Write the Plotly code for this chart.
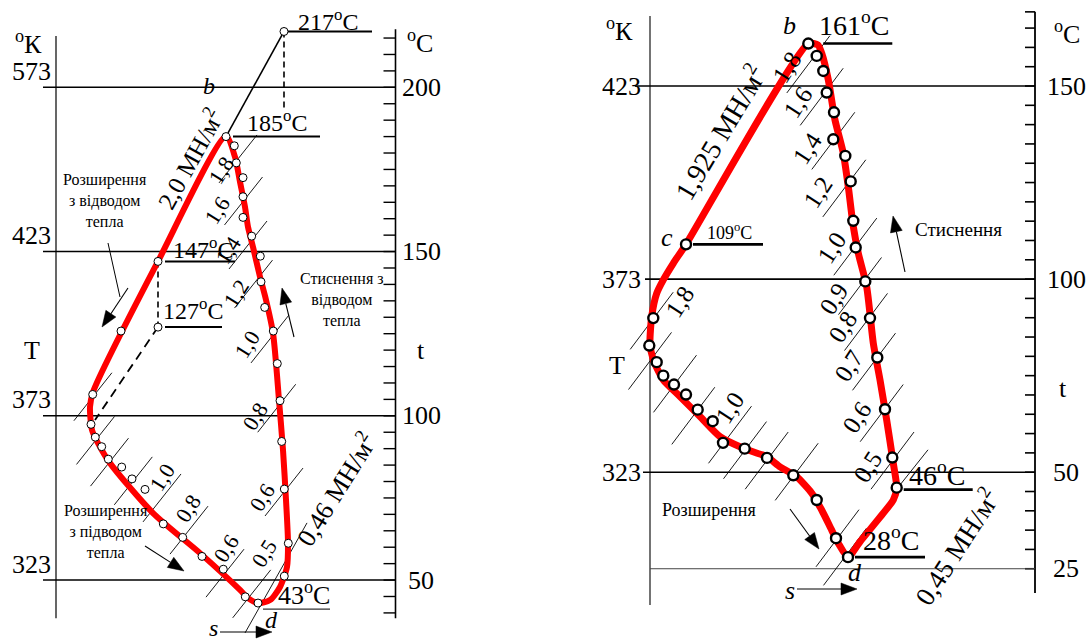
import math
import plotly.graph_objects as go

W, H = 1092, 641
SERIF = "Liberation Serif, Tinos, DejaVu Serif, serif"
RED = "#ff0000"

# ================= Left diagram: 2.0 / 0.46 MN/m² =================
# s - entropy (relative units), t - temperature (°C)
l_cycle_s = [17.0, 17.9, 18.4, 18.9, 19.2, 19.7, 20.4, 21.0, 21.7, 22.3, 22.7, 23.0, 23.2,
             23.1, 22.4, 21.4, 20.2, 19.2, 18.4, 14.4, 9.7, 5.4, 4.2, 3.6, 3.4, 3.7, 10.2, 17.0]
l_cycle_t = [185, 178.8, 171.2, 163.6, 157.5, 151.4, 142.3, 135.3, 125.2, 104.8, 89.6, 74.4, 61.3,
             54.0, 47.9, 43.9, 43.0, 44.5, 47.0, 58.2, 70.4, 85.6, 91.7, 95.7, 102.7, 107.2, 147, 185]

l_pts_s = [6.5, 3.67, 3.5, 3.93, 4.57, 5.23, 6.57, 7.6, 8.9, 10.73, 12.67, 14.6, 16.73, 18.93,
           22.83, 23.23, 22.83, 22.57, 22.4, 22.13, 21.73, 20.87, 20.5, 20.43, 19.57, 18.7, 18.7,
           18.7, 18.03, 17.83]
l_pts_t = [125.8, 106.5, 97.4, 93.5, 90.6, 86.8, 84.4, 80.8, 77.6, 67.1, 63.0, 57.2, 53.3, 44.9,
           51.2, 61.2, 77.7, 92.2, 104.6, 115.9, 125.8, 133.0, 140.8, 148.6, 154.7, 160.4, 166.7,
           172.5, 177.0, 182.2]

# labelled states: 217, 185, 147, 127, 43 °C
l_key_s = [22.8, 17.0, 10.2, 10.2, 20.2]
l_key_t = [217, 185, 147, 127, 43]

# dashed continuation from the 127 °C state
l_dash_s = [10.2, 3.9]
l_dash_t = [127, 98.7]
l_dash_top_t = 193  # lower end of the dashed drop from 217 °C

# isobar hatch centres
l_iso_s = [18.2, 18.75, 19.2, 19.75, 21.4, 22.07, 22.8, 19.57, 16.9, 13.3, 10.6, 7.73, 5.35, 3.95, 3.69]
l_iso_t = [178.2, 165.4, 152.0, 140.1, 123.4, 102.3, 76.8, 45.8, 52.1, 65.2, 75.0, 80.2, 85.9, 92.5, 105.8]
l_iso_long_s = [18.9, 25.1]
l_iso_long_t = [33.9, 67.4]
l_iso_labels = ["1,8", "1,6", "1,4", "1,2", "1,0", "0,8", "0,6", "0,5", "1,0", "0,8", "0,6"]

l_major_t = [200, 150, 100, 50]
l_major_K = ["573", "423", "373", "323"]
l_ticks_t = list(range(40, 216, 5))

# ================= Right diagram: 1.925 / 0.45 MN/m² =================
r_cycle_s = [15.83, 16.8, 17.17, 17.83, 18.5, 19.33, 19.83, 20.33, 20.83, 21.67, 22.33, 23.0, 23.67,
             24.33, 24.67, 24.33, 23.33, 21.0, 19.8, 18.83, 18.17, 17.17, 16.17, 14.67, 13.0, 11.67,
             9.33, 7.0, 5.0, 3.0, 1.33, 0.33, 0.0, 0.17, 0.67, 1.33, 2.33, 3.6, 15.83]
r_cycle_t = [161, 160.6, 158.5, 151.6, 141.2, 132.6, 123.9, 113.6, 106.7, 98.0, 83.4, 73.9, 63.5,
             52.3, 46, 42.8, 39.4, 32.0, 28, 31.6, 35.0, 40.2, 44.6, 48.8, 51.4, 54.0,
             56.2, 59.2, 64.4, 69.6, 73.9, 79.1, 83.4, 90.3, 96.3, 99.8, 104.1, 109, 161]

r_pts_s = [16.67, 17.33, 17.67, 18.4, 18.33, 19.53, 20.07, 20.33, 20.57, 21.53, 22.0, 22.73, 23.5,
           24.23, 18.6, 16.67, 14.33, 11.7, 9.47, 7.3, 6.27, 4.77, 3.6, 2.4, 1.33, 0.67, -0.07, 0.33]
r_pts_t = [157.8, 153.9, 148.3, 143.2, 136.2, 131.9, 125.3, 115.1, 108.2, 99.4, 89.9, 79.7, 66.3,
           53.8, 32.9, 42.8, 49.2, 53.7, 56.1, 57.6, 63.2, 66.2, 70.1, 72.7, 75.0, 78.5, 82.8, 89.9]

# labelled states: b 161, c 109, 46, d 28 °C
r_key_s = [15.83, 3.6, 24.67, 19.8]
r_key_t = [161, 109, 46, 28]

r_iso_s = [15.83, 17.17, 18.33, 19.43, 20.53, 21.0, 21.6, 22.4, 23.17, 24.25,
           0.17, 0.0, 2.5, 4.33, 8.0, 9.5, 11.67, 14.67, 18.75, 19.5]
r_iso_t = [155.6, 147.2, 135.8, 123.5, 108.4, 98.2, 88.9, 78.6, 65.3, 53.0,
           89.2, 78.8, 72.9, 64.6, 59.7, 55.7, 53.0, 50.1, 32.9, 28.1]
r_iso_short_s = [25.0, 27.8]
r_iso_short_t = [46.7, 55.8]
r_iso_labels = ["1,8", "1,6", "1,4", "1,2", "1,0", "0,9", "0,8", "0,7", "0,6", "0,5", "1,8", "1,0"]

r_major_t = [150, 100, 50, 25]
r_major_K = ["423", "373", "323", ""]
r_ticks_t = list(range(25, 170, 5))


def px(x, y):
    """pixel position -> paper coordinates"""
    return x / W, 1 - y / H


def hatch(cs, ct, ds, dt):
    xs, ys = [], []
    for s, t in zip(cs, ct):
        xs += [s - ds, s + ds, None]
        ys += [t - dt, t + dt, None]
    return xs, ys


fig = go.Figure()

# ---------- left panel marks ----------
hx, hy = hatch(l_iso_s, l_iso_t, 1.9, 7.3)
fig.add_trace(go.Scatter(x=hx, y=hy, mode="lines", line=dict(color="black", width=0.9),
                         xaxis="x", yaxis="y", hoverinfo="skip"))
fig.add_trace(go.Scatter(x=l_iso_long_s, y=l_iso_long_t, mode="lines",
                         line=dict(color="black", width=0.9), xaxis="x", yaxis="y"))
# 185 -> 217 °C line and dashed guides
fig.add_trace(go.Scatter(x=[l_key_s[1], l_key_s[0]], y=[l_key_t[1], l_key_t[0]], mode="lines",
                         line=dict(color="black", width=1.6), xaxis="x", yaxis="y"))
fig.add_trace(go.Scatter(x=[l_key_s[0], l_key_s[0]], y=[l_key_t[0], l_dash_top_t], mode="lines",
                         line=dict(color="black", width=1.6, dash="6px,4px"), xaxis="x", yaxis="y"))
fig.add_trace(go.Scatter(x=[l_key_s[2], l_key_s[3]], y=[l_key_t[2], l_key_t[3]], mode="lines",
                         line=dict(color="black", width=1.6, dash="6px,4px"), xaxis="x", yaxis="y"))
fig.add_trace(go.Scatter(x=l_dash_s, y=l_dash_t, mode="lines",
                         line=dict(color="black", width=1.8, dash="9px,6px"), xaxis="x", yaxis="y"))
fig.add_trace(go.Scatter(x=l_cycle_s, y=l_cycle_t, mode="lines",
                         line=dict(color=RED, width=6, shape="spline", smoothing=0.7),
                         xaxis="x", yaxis="y"))
fig.add_trace(go.Scatter(x=l_pts_s + l_key_s, y=l_pts_t + l_key_t, mode="markers",
                         marker=dict(size=8, color="white", line=dict(color="black", width=1)),
                         xaxis="x", yaxis="y"))

# ---------- right panel marks ----------
hx, hy = hatch(r_iso_s, r_iso_t, 2.15, 7.4)
fig.add_trace(go.Scatter(x=hx, y=hy, mode="lines", line=dict(color="black", width=0.9),
                         xaxis="x2", yaxis="y2"))
fig.add_trace(go.Scatter(x=r_iso_short_s, y=r_iso_short_t, mode="lines",
                         line=dict(color="black", width=0.9), xaxis="x2", yaxis="y2"))
fig.add_trace(go.Scatter(x=r_cycle_s, y=r_cycle_t, mode="lines",
                         line=dict(color=RED, width=7, shape="spline", smoothing=0.6),
                         xaxis="x2", yaxis="y2"))
fig.add_trace(go.Scatter(x=r_pts_s + r_key_s, y=r_pts_t + r_key_t, mode="markers",
                         marker=dict(size=10, color="white", line=dict(color="black", width=2.4)),
                         xaxis="x2", yaxis="y2"))

shapes = []
ann = []


def seg(x0, y0, x1, y1, xr, yr, w=1.5, color="black", dash="solid"):
    shapes.append(dict(type="line", x0=x0, y0=y0, x1=x1, y1=y1, xref=xr, yref=yr,
                       line=dict(color=color, width=w, dash=dash), layer="below"))


def text(x, y, s, size, angle=0, italic=False, **kw):
    xp, yp = px(x, y)
    if italic:
        s = "<i>" + s + "</i>"
    d = dict(x=xp, y=yp, xref="paper", yref="paper", text=s, showarrow=False,
             font=dict(family=SERIF, size=size, color="black"), textangle=angle,
             xanchor="center", yanchor="middle")
    d.update(kw)
    ann.append(d)


def pline(p0, p1, w=1.0):
    a0, b0 = px(*p0)
    a1, b1 = px(*p1)
    shapes.append(dict(type="line", x0=a0, y0=b0, x1=a1, y1=b1, xref="paper", yref="paper",
                       line=dict(color="black", width=w)))


def arrow(tail, tip, head=16, half=6, w=1.1):
    """thin shaft with a filled triangular head"""
    dx, dy = tip[0] - tail[0], tip[1] - tail[1]
    n = math.hypot(dx, dy)
    ux, uy = dx / n, dy / n
    bx, by = tip[0] - head * ux, tip[1] - head * uy
    pline(tail, (bx, by), w)
    pts = [tip, (bx - half * uy, by + half * ux), (bx + half * uy, by - half * ux)]
    path = "M " + " L ".join("{:.5f},{:.5f}".format(*px(*p)) for p in pts) + " Z"
    shapes.append(dict(type="path", path=path, xref="paper", yref="paper",
                       fillcolor="black", line=dict(color="black", width=0.5)))


# ---------- left panel frame ----------
seg(0, 38.4, 0, 215.6, "x", "y", w=1.2)
seg(33.95, 38.4, 33.95, 217.7, "x", "y", w=1.6)
for t in l_ticks_t:
    seg(32.75, t, 33.95, t, "x", "y", w=1.4)
for t, k in zip(l_major_t, l_major_K):
    seg(-1.3, t, 33.95, t, "x", "y", w=1.4)
    ann.append(dict(x=-2.5, y=t, xref="x", yref="y", text=k, showarrow=False, yshift=16,
                    font=dict(family=SERIF, size=26, color="black")))
    ann.append(dict(x=36.5, y=t, xref="x", yref="y", text=str(t), showarrow=False,
                    font=dict(family=SERIF, size=26, color="black"), xanchor="center"))

# temperature labels with underlines (left)
l_lab_off = [(44, 11.5, 24), (51, 16, 24), (45, 13, 24), (35, 18, 24), (46, 10, 26)]
l_ul = [(0, 88, 0), (7, 94, 0), (7, 77, 0), (7, 64, 0), (5, 72, -6)]
for s, t, (dx, dy, fs), (u0, u1, uy) in zip(l_key_s, l_key_t, l_lab_off, l_ul):
    ann.append(dict(x=s, y=t, xref="x", yref="y", text=f"{t}<sup>o</sup>C", showarrow=False,
                    xshift=dx, yshift=dy, font=dict(family=SERIF, size=fs, color="black")))
    seg(s + u0 / 10, t + uy / 3.285, s + u1 / 10, t + uy / 3.285, "x", "y",
        w=1.2 if t == 43 else 2, color="#333" if t == 43 else "black")

# ---------- right panel frame ----------
seg(0, 15.6, 0, 168.1, "x2", "y2", w=1.1)
seg(38.5, 18.7, 38.5, 169.2, "x2", "y2", w=1.8)
for t in r_ticks_t + [169.2]:
    seg(37.5, t, 38.5, t, "x2", "y2", w=1.6)
for t, k, x0 in zip(r_major_t, r_major_K, [-1.5, -0.5, -0.7, 0]):
    seg(x0, t, 38.5, t, "x2", "y2", w=1.0 if t == 25 else 1.6, color="#444" if t == 25 else "black")
    if k:
        ann.append(dict(x=-2.9, y=t, xref="x2", yref="y2", text=k, showarrow=False,
                        font=dict(family=SERIF, size=26, color="black")))
    ann.append(dict(x=41.6, y=t, xref="x2", yref="y2", text=str(t), showarrow=False,
                    font=dict(family=SERIF, size=26, color="black")))

r_lab_off = [(46, 20.5, 28), (43, 13, 18), (40, 14.6, 28), (43, 19, 28)]
r_ul = [(15, 84, 0), (7, 77, 0), (7, 76, -2), (7, 77, 0)]
for s, t, (dx, dy, fs), (u0, u1, uy) in zip(r_key_s, r_key_t, r_lab_off, r_ul):
    ann.append(dict(x=s, y=t, xref="x2", yref="y2", text=f"{t}<sup>o</sup>C", showarrow=False,
                    xshift=dx, yshift=dy, font=dict(family=SERIF, size=fs, color="black")))
    seg(s + u0 / 10, t + uy / 3.862, s + u1 / 10, t + uy / 3.862, "x2", "y2", w=2.6)

# ---------- left panel texts ----------
text(28, 43, "<sup>o</sup>К", 26)
text(420, 41, "<sup>o</sup>C", 26)
text(32, 350, "T", 26)
text(421, 350, "t", 26)
text(209, 86, "b", 24, italic=True)
text(271, 620, "d", 24, italic=True)
text(213, 628, "s", 24, italic=True)
text(189, 159, "2,0 МН/м<sup>2</sup>", 25, angle=-61)
text(335, 489, "0,46 МН/м<sup>2</sup>", 26, angle=-58)
for lbl, (x, y) in zip(l_iso_labels, [(221, 170), (217, 210), (228, 250), (236, 293), (247, 344),
                                      (255, 416), (262, 497), (264, 553), (162, 477), (188, 508),
                                      (226, 548)]):
    text(x, y, lbl, 22, angle=-58)
text(105, 201, "Розширення<br>з відводом<br>тепла", 16)
text(342, 299, "Стиснення з<br>відводом<br>тепла", 16)
text(106, 531, "Розширення<br>з підводом<br>тепла", 16)
pline((108, 243), (120, 297))
arrow((128, 288), (102, 327))
arrow((294, 337), (282, 288))
arrow((145, 546), (184, 571))
arrow((220, 632), (272, 632))

# ---------- right panel texts ----------
text(619, 30, "<sup>o</sup>К", 26)
text(1067, 33, "<sup>o</sup>C", 26)
text(617, 365, "T", 26)
text(1063, 388, "t", 26)
text(789, 25, "b", 26, italic=True)
text(667, 238, "c", 26, italic=True)
text(855, 572, "d", 26, italic=True)
text(790, 590, "s", 26, italic=True)
text(719, 132, "1,925 МН/м<sup>2</sup>", 28, angle=-59)
text(956, 546, "0,45 МН/м<sup>2</sup>", 27, angle=-57)
for lbl, (x, y) in zip(r_iso_labels, [(787, 68), (798, 103), (807, 148), (818, 193), (831, 248),
                                      (833, 299), (842, 327), (848, 366), (857, 418), (867, 467),
                                      (679, 302), (729, 408)]):
    text(x, y, lbl, 25, angle=-57)
text(709, 510, "Розширення", 18)
text(958, 229, "Стиснення", 19)
arrow((790, 509), (819, 549))
arrow((905, 272), (893, 216))
arrow((797, 589), (857, 589))

fig.update_layout(
    width=W, height=H, margin=dict(l=0, r=0, t=0, b=0),
    paper_bgcolor="white", plot_bgcolor="white", showlegend=False,
    xaxis=dict(domain=[0, 0.5], range=[-5.6, 49.0], visible=False, fixedrange=True),
    yaxis=dict(domain=[0, 1], range=[31.45, 226.58], visible=False, fixedrange=True, anchor="x"),
    xaxis2=dict(domain=[0.5, 1], range=[-10.4, 44.2], visible=False, fixedrange=True, anchor="y2"),
    yaxis2=dict(domain=[0, 1], range=[6.29, 172.27], visible=False, fixedrange=True, anchor="x2"),
    shapes=shapes, annotations=ann,
)

fig.write_html("out.html", config={"displayModeBar": False})
